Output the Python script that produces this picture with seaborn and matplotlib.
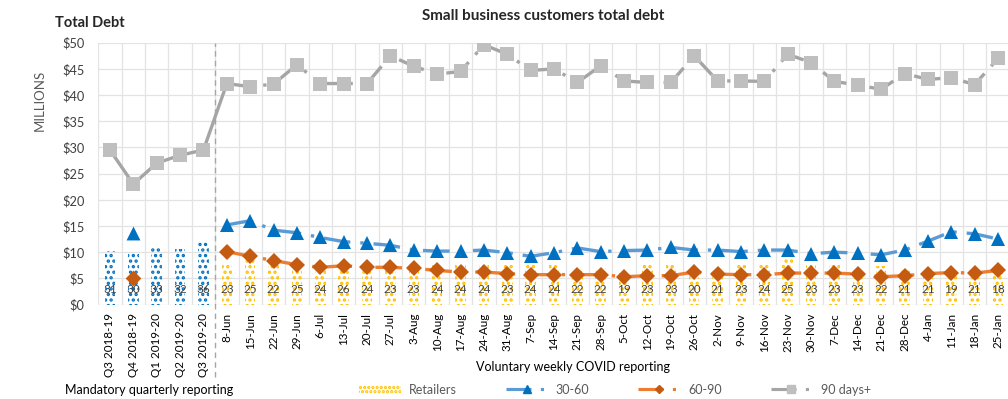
import numpy as np
import pandas as pd
import matplotlib
matplotlib.use("Agg")
import matplotlib.pyplot as plt
import seaborn as sns
from matplotlib.lines import Line2D
from matplotlib.patches import Patch

# ---------------- data ----------------
quarters = ["Q3 2018-19", "Q4 2018-19", "Q1 2019-20", "Q2 2019-20", "Q3 2019-20"]
weeks = ["8-Jun", "15-Jun", "22-Jun", "29-Jun", "6-Jul", "13-Jul", "20-Jul", "27-Jul",
         "3-Aug", "10-Aug", "17-Aug", "24-Aug", "31-Aug", "7-Sep", "14-Sep", "21-Sep",
         "28-Sep", "5-Oct", "12-Oct", "19-Oct", "26-Oct", "2-Nov", "9-Nov", "16-Nov",
         "23-Nov", "30-Nov", "7-Dec", "14-Dec", "21-Dec", "28-Dec", "4-Jan", "11-Jan",
         "18-Jan", "25-Jan"]

quarter_retailers = [10.3, 10.0, 11.0, 10.6, 11.9]
quarter_counts = [31, 30, 33, 32, 36]
quarter_90plus = [29.5, 23.0, 27.0, 28.5, 29.5]
q4_30_60 = 13.6
q4_60_90 = 5.0

week_retailers = [7.7, 9.5, 8.3, 7.0, 6.6, 7.2, 7.6, 7.4, 6.6, 8.0, 7.8, 7.8, 7.5, 7.9,
                  8.0, 6.8, 7.0, 6.0, 7.6, 7.7, 6.6, 6.8, 7.6, 8.0, 8.7, 7.6, 7.6, 6.8,
                  7.3, 6.8, 6.3, 6.5, 6.8, 6.5]
week_counts = [23, 25, 22, 25, 24, 26, 24, 23, 23, 24, 24, 24, 23, 24, 24, 22, 22, 19,
               23, 23, 20, 21, 23, 24, 25, 23, 23, 23, 22, 21, 21, 19, 21, 18]
week_30_60 = [15.2, 16.0, 14.2, 13.7, 12.8, 12.0, 11.7, 11.3, 10.4, 10.2, 10.2, 10.4,
              9.9, 9.2, 9.9, 10.8, 10.1, 10.3, 10.4, 10.9, 10.4, 10.4, 10.1, 10.4, 10.4,
              9.7, 10.0, 9.8, 9.5, 10.4, 12.1, 13.9, 13.5, 12.5]
week_60_90 = [10.1, 9.2, 8.4, 7.6, 7.1, 7.4, 7.1, 7.1, 6.9, 6.5, 6.2, 6.2, 5.9, 5.7,
              5.7, 5.7, 5.7, 5.3, 5.5, 5.5, 6.2, 5.8, 5.7, 5.7, 6.0, 6.0, 6.0, 5.8, 5.3,
              5.5, 5.9, 6.1, 6.0, 6.5]
week_90plus = [42.2, 41.6, 42.1, 45.8, 42.2, 42.2, 42.2, 47.5, 45.5, 44.0, 44.5, 49.6,
               47.8, 44.7, 45.0, 42.4, 45.6, 42.7, 42.4, 42.4, 47.5, 42.7, 42.7, 42.6,
               47.8, 46.2, 42.6, 41.9, 41.1, 44.1, 43.0, 43.3, 42.0, 47.0]

categories = quarters + weeks

# ---------------- style ----------------
sns.set_style("white")
plt.rcParams["font.family"] = ["Lato", "DejaVu Sans"]
plt.rcParams["hatch.linewidth"] = 1.6

C_YEL = "#FFC000"
C_QBLUE = "#0070C0"
C_BLUE_M = "#0070C0"
C_BLUE_L = "#5B9BD5"
C_OR_M = "#C55A11"
C_OR_L = "#ED7D31"
C_GR_M = "#BFBFBF"
C_GR_L = "#A5A5A5"
TXT = "#404040"

fig = plt.figure(figsize=(10.08, 3.99), dpi=100)
ax = fig.add_axes([98.3 / 1008, 1 - 304.5 / 399, 911.4 / 1008, 261.8 / 399])

nq = len(quarters)
xq = np.arange(nq)
xw = np.arange(nq, nq + len(weeks))

dq = pd.DataFrame({"cat": quarters, "val": quarter_retailers})
dw = pd.DataFrame({"cat": weeks, "val": week_retailers})

sns.barplot(data=dq, x="cat", y="val", order=categories, width=0.45, ax=ax,
            color="white", edgecolor=C_QBLUE, linewidth=0, hatch="...", zorder=2)
sns.barplot(data=dw, x="cat", y="val", order=categories, width=0.45, ax=ax,
            color="white", edgecolor=C_YEL, linewidth=0, hatch="...", zorder=2)
for p in ax.patches:
    p.set_facecolor("none")

DASH = (8, 3, 1, 3)

# 90 days+ quarterly (solid, connects to first week)
sns.lineplot(x=list(xq) + [xw[0]], y=quarter_90plus + [week_90plus[0]], ax=ax,
             color=C_GR_L, lw=2.4, marker="s", markersize=9.5,
             markerfacecolor=C_GR_M, markeredgecolor=C_GR_M, markeredgewidth=0,
             legend=False, zorder=4)
# weekly lines
specs = [
    (week_90plus, C_GR_L, C_GR_M, "s", 9.5),
    (week_30_60, C_BLUE_L, C_BLUE_M, "^", 10),
    (week_60_90, C_OR_L, C_OR_M, "D", 8),
]
for vals, lc, mc, mk, ms in specs:
    sns.lineplot(x=xw, y=vals, ax=ax, color=lc, lw=2.4, marker=mk, markersize=ms,
                 markerfacecolor=mc, markeredgecolor=mc, markeredgewidth=0,
                 legend=False, zorder=4)
    ax.lines[-1].set_dashes(DASH)

# quarterly single points for 30-60 / 60-90
sns.scatterplot(x=[xq[1]], y=[q4_30_60], ax=ax, marker="^", s=100, color=C_BLUE_M,
                linewidth=0, zorder=5, legend=False)
sns.scatterplot(x=[xq[1]], y=[q4_60_90], ax=ax, marker="D", s=64, color=C_OR_M,
                linewidth=0, zorder=5, legend=False)

# bar count labels
for i, c in enumerate(quarter_counts + week_counts):
    ax.text(i, 2.9, str(c), ha="center", va="center", fontsize=8.5, color=TXT, zorder=6)

# axes formatting
ax.set_xlim(-0.5, len(categories) - 0.5)
ax.set_ylim(0, 50)
ax.set_yticks(np.arange(0, 51, 5))
ax.set_yticklabels([f"${v}" for v in range(0, 51, 5)], fontsize=9.2, color=TXT)
ax.set_xticks(np.arange(len(categories)))
ax.set_xticklabels(categories, rotation=90, fontsize=8.4, color="black")
ax.tick_params(axis="both", length=0)
ax.tick_params(axis="x", pad=6)
ax.tick_params(axis="y", pad=10)
ax.set_xticks(np.arange(len(categories) + 1) - 0.5, minor=True)
ax.tick_params(axis="x", which="minor", length=0)
ax.grid(False)
ax.grid(axis="y", which="major", color="#E3E3E3", lw=0.9, zorder=0)
ax.grid(axis="x", which="minor", color="#E3E3E3", lw=0.9, zorder=0)
ax.set_axisbelow(True)
for s in ax.spines.values():
    s.set_visible(False)
ax.set_xlabel("")
ax.set_ylabel("MILLIONS", fontsize=9.5, color="#595959")
ax.yaxis.set_label_coords(-0.058, 0.78)

# separator
ax.axvline(nq - 0.5, ymin=-0.277, ymax=1.0, color="#A6A6A6", lw=1, dashes=(4, 3),
           clip_on=False, zorder=3)

# texts
fig.text(543.6 / 1008, 1 - 16 / 399, "Small business customers total debt",
         ha="center", va="center", fontsize=11, fontweight="bold")
fig.text(55 / 1008, 1 - 23 / 399, "Total Debt", ha="left", va="center",
         fontsize=10.5, fontweight="bold")
fig.text(573 / 1008, 1 - 367 / 399, "Voluntary weekly COVID reporting",
         ha="center", va="center", fontsize=9, color="black")
fig.text(65 / 1008, 1 - 390 / 399, "Mandatory quarterly reporting",
         ha="left", va="center", fontsize=9, color="black")

handles = [
    Patch(facecolor="none", edgecolor=C_YEL, hatch="....", lw=0, label="Retailers"),
    Line2D([], [], color=C_BLUE_L, lw=2.25, dashes=DASH, marker="^", markersize=5.5,
           markerfacecolor=C_BLUE_M, markeredgecolor=C_BLUE_M, label="30-60"),
    Line2D([], [], color=C_OR_L, lw=2.25, dashes=DASH, marker="D", markersize=4.5,
           markerfacecolor=C_OR_M, markeredgecolor=C_OR_M, label="60-90"),
    Line2D([], [], color=C_GR_L, lw=2.25, dashes=DASH, marker="s", markersize=5.5,
           markerfacecolor=C_GR_M, markeredgecolor=C_GR_M, label="90 days+"),
]
leg = fig.legend(handles=handles, loc="center", bbox_to_anchor=(615 / 1008, 1 - 390 / 399),
                 ncol=4, frameon=False, fontsize=9, handlelength=3.3, handleheight=0.8,
                 columnspacing=3.9, handletextpad=0.7)
for t in leg.get_texts():
    t.set_color("#595959")

fig.savefig("out.png", dpi=100)
